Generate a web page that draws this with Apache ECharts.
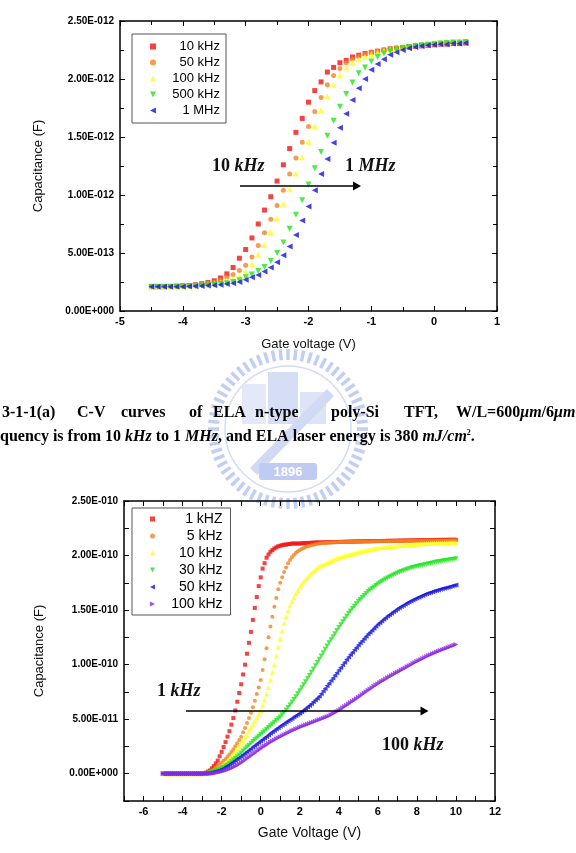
<!DOCTYPE html>
<html>
<head>
<meta charset="utf-8">
<script src="https://cdn.jsdelivr.net/npm/echarts@6/dist/echarts.min.js"></script>
<style>
html,body{margin:0;padding:0;background:#fff;}
#main{width:576px;height:853px;}
</style>
</head>
<body>
<div id="main"></div>
<script>
// upper plot: gate voltage (V) against capacitance in pF
var voltA = [
  -4.5,-4.4,-4.3,-4.2,-4.1,-4.0,-3.9,-3.8,-3.7,-3.6,
  -3.5,-3.4,-3.3,-3.2,-3.1,-3.0,-2.9,-2.8,-2.7,-2.6,
  -2.5,-2.4,-2.3,-2.2,-2.1,-2.0,-1.9,-1.8,-1.7,-1.6,
  -1.5,-1.4,-1.3,-1.2,-1.1,-1.0,-0.9,-0.8,-0.7,-0.6,
  -0.5,-0.4,-0.3,-0.2,-0.1,0,0.1,0.2,0.3,0.4,
  0.5];
var c10k = [
  0.21,0.21,0.21,0.212,0.214,0.216,0.22,0.226,0.235,0.245,
  0.26,0.285,0.32,0.375,0.455,0.53,0.63,0.75,0.87,0.985,
  1.12,1.26,1.40,1.54,1.66,1.80,1.90,1.975,2.06,2.10,
  2.14,2.16,2.19,2.205,2.22,2.23,2.24,2.25,2.26,2.265,
  2.27,2.275,2.28,2.285,2.29,2.295,2.30,2.30,2.305,2.305,
  2.31];
var c50k = [
  0.21,0.21,0.21,0.212,0.214,0.216,0.218,0.222,0.228,0.235,
  0.245,0.265,0.29,0.315,0.35,0.395,0.465,0.565,0.675,0.79,
  0.91,1.04,1.18,1.32,1.455,1.59,1.72,1.84,1.95,2.03,
  2.09,2.14,2.17,2.195,2.215,2.23,2.24,2.25,2.26,2.27,
  2.275,2.28,2.29,2.295,2.30,2.305,2.31,2.31,2.315,2.315,
  2.32];
var c100k = [
  0.21,0.21,0.21,0.212,0.214,0.216,0.218,0.22,0.224,0.23,
  0.238,0.248,0.26,0.275,0.30,0.34,0.405,0.485,0.57,0.68,
  0.80,0.925,1.05,1.185,1.325,1.46,1.595,1.73,1.85,1.95,
  2.03,2.10,2.14,2.17,2.195,2.215,2.23,2.245,2.255,2.265,
  2.275,2.285,2.29,2.30,2.305,2.31,2.315,2.32,2.32,2.325,
  2.33];
var c500k = [
  0.21,0.21,0.21,0.21,0.21,0.212,0.214,0.216,0.219,0.222,
  0.226,0.232,0.24,0.25,0.265,0.29,0.315,0.345,0.38,0.43,
  0.50,0.59,0.71,0.83,0.955,1.09,1.23,1.37,1.51,1.64,
  1.76,1.87,1.97,2.05,2.10,2.15,2.19,2.22,2.24,2.255,
  2.265,2.275,2.285,2.29,2.295,2.30,2.305,2.31,2.315,2.315,
  2.32];
var c1M = [
  0.21,0.21,0.21,0.21,0.21,0.21,0.212,0.214,0.216,0.219,
  0.222,0.226,0.232,0.24,0.25,0.27,0.29,0.31,0.34,0.375,
  0.42,0.48,0.555,0.655,0.78,0.90,1.04,1.18,1.31,1.45,
  1.58,1.70,1.82,1.92,2.00,2.08,2.13,2.17,2.21,2.23,
  2.25,2.265,2.275,2.285,2.29,2.295,2.30,2.30,2.305,2.305,
  2.31];
var namesA = ['10 kHz', '50 kHz', '100 kHz', '500 kHz', '1 MHz'];

// lower plot: gate voltage (V) against capacitance in units of 1e-11 F
var voltB = [
  -5.0,-4.9,-4.8,-4.7,-4.6,-4.5,-4.4,-4.3,-4.2,-4.1,
  -4.0,-3.9,-3.8,-3.7,-3.6,-3.5,-3.4,-3.3,-3.2,-3.1,
  -3.0,-2.9,-2.8,-2.7,-2.6,-2.5,-2.4,-2.3,-2.2,-2.1,
  -2.0,-1.9,-1.8,-1.7,-1.6,-1.5,-1.4,-1.3,-1.2,-1.1,
  -1.0,-0.9,-0.8,-0.7,-0.6,-0.5,-0.4,-0.3,-0.2,-0.1,
  0,0.1,0.2,0.3,0.4,0.5,0.6,0.7,0.8,0.9,
  1.0,1.1,1.2,1.3,1.4,1.5,1.6,1.7,1.8,1.9,
  2.0,2.1,2.2,2.3,2.4,2.5,2.6,2.7,2.8,2.9,
  3.0,3.1,3.2,3.3,3.4,3.5,3.6,3.7,3.8,3.9,
  4.0,4.1,4.2,4.3,4.4,4.5,4.6,4.7,4.8,4.9,
  5.0,5.1,5.2,5.3,5.4,5.5,5.6,5.7,5.8,5.9,
  6.0,6.1,6.2,6.3,6.4,6.5,6.6,6.7,6.8,6.9,
  7.0,7.1,7.2,7.3,7.4,7.5,7.6,7.7,7.8,7.9,
  8.0,8.1,8.2,8.3,8.4,8.5,8.6,8.7,8.8,8.9,
  9.0,9.1,9.2,9.3,9.4,9.5,9.6,9.7,9.8,9.9,
  10.0];
var b1k = [
  0,0,0,0,0,0,0,0,0,0,
  0,0,0,0,0,0,0,0,0,0,
  0,0.05,0.1,0.2,0.3,0.5,0.7,0.95,1.2,1.6,
  2.0,2.45,2.9,3.4,3.9,4.5,5.1,5.8,6.6,7.4,
  8.2,9.1,10.0,11.0,12.0,13.0,14.1,15.2,16.2,17.2,
  18.0,18.8,19.3,19.8,20.1,20.35,20.5,20.65,20.75,20.85,
  20.9,20.95,21.0,21.0,21.05,21.05,21.1,21.1,21.1,21.1,
  21.1,21.12,21.13,21.14,21.15,21.16,21.17,21.18,21.19,21.2,
  21.2,21.2,21.21,21.21,21.22,21.22,21.23,21.23,21.24,21.24,
  21.25,21.25,21.26,21.26,21.27,21.27,21.28,21.28,21.29,21.29,
  21.3,21.3,21.3,21.31,21.31,21.31,21.32,21.32,21.32,21.33,
  21.33,21.33,21.34,21.34,21.34,21.35,21.35,21.35,21.36,21.36,
  21.36,21.37,21.37,21.37,21.38,21.38,21.38,21.39,21.39,21.39,
  21.4,21.4,21.4,21.41,21.41,21.41,21.42,21.42,21.42,21.43,
  21.43,21.43,21.44,21.44,21.44,21.44,21.45,21.45,21.45,21.45,
  21.45];
var b5k = [
  0,0,0,0,0,0,0,0,0,0,
  0,0,0,0,0,0,0,0,0,0,
  0,0.03,0.07,0.12,0.2,0.3,0.42,0.55,0.7,0.85,
  1.0,1.18,1.36,1.55,1.77,2.0,2.25,2.52,2.8,3.1,
  3.4,3.8,4.2,4.65,5.1,5.6,6.1,6.7,7.3,7.9,
  8.6,9.5,10.5,11.5,12.5,13.5,14.4,15.3,16.1,16.9,
  17.5,18.0,18.5,18.9,19.3,19.6,19.85,20.05,20.25,20.4,
  20.5,20.6,20.7,20.78,20.85,20.9,20.95,21.0,21.03,21.06,
  21.1,21.12,21.14,21.16,21.18,21.19,21.2,21.21,21.22,21.23,
  21.24,21.24,21.25,21.25,21.25,21.26,21.26,21.26,21.27,21.27,
  21.27,21.28,21.28,21.28,21.29,21.29,21.29,21.3,21.3,21.3,
  21.3,21.31,21.31,21.31,21.32,21.32,21.32,21.32,21.33,21.33,
  21.33,21.33,21.34,21.34,21.34,21.34,21.35,21.35,21.35,21.35,
  21.36,21.36,21.36,21.36,21.37,21.37,21.37,21.37,21.38,21.38,
  21.38,21.38,21.38,21.39,21.39,21.39,21.39,21.4,21.4,21.4,
  21.4];
var b10k = [
  0,0,0,0,0,0,0,0,0,0,
  0,0,0,0,0,0,0,0,0,0,
  0,0.02,0.05,0.08,0.13,0.2,0.28,0.37,0.47,0.58,
  0.7,0.85,1.0,1.17,1.38,1.6,1.83,2.06,2.3,2.55,
  2.8,3.05,3.3,3.6,3.9,4.2,4.5,4.8,5.1,5.45,
  5.8,6.25,6.75,7.3,7.9,8.6,9.3,10.0,10.8,11.6,
  12.4,13.1,13.8,14.4,14.95,15.4,15.8,16.15,16.5,16.8,
  17.1,17.35,17.6,17.8,18.0,18.2,18.38,18.55,18.7,18.85,
  19.0,19.08,19.16,19.24,19.32,19.4,19.48,19.56,19.64,19.72,
  19.8,19.85,19.9,19.95,20.0,20.05,20.1,20.15,20.2,20.25,
  20.3,20.34,20.38,20.42,20.46,20.5,20.54,20.58,20.62,20.66,
  20.7,20.72,20.74,20.76,20.78,20.8,20.82,20.84,20.86,20.88,
  20.9,20.92,20.93,20.95,20.96,20.98,20.99,21.0,21.02,21.03,
  21.05,21.06,21.07,21.08,21.09,21.1,21.11,21.12,21.13,21.14,
  21.15,21.15,21.16,21.16,21.17,21.17,21.18,21.18,21.19,21.19,
  21.2];
var b30k = [
  0,0,0,0,0,0,0,0,0,0,
  0,0,0,0,0,0,0,0,0,0,
  0,0.01,0.03,0.05,0.1,0.15,0.21,0.28,0.35,0.42,
  0.5,0.6,0.7,0.8,0.95,1.1,1.25,1.4,1.55,1.72,
  1.9,2.08,2.26,2.44,2.62,2.8,2.96,3.12,3.28,3.44,
  3.6,3.76,3.92,4.08,4.24,4.4,4.56,4.72,4.88,5.04,
  5.2,5.4,5.62,5.84,6.06,6.3,6.55,6.8,7.05,7.32,
  7.6,7.88,8.16,8.44,8.72,9.0,9.3,9.6,9.9,10.2,
  10.5,10.8,11.1,11.4,11.7,12.0,12.28,12.56,12.84,13.12,
  13.4,13.66,13.92,14.18,14.44,14.7,14.92,15.14,15.36,15.58,
  15.8,15.98,16.16,16.34,16.52,16.7,16.84,16.98,17.12,17.26,
  17.4,17.51,17.62,17.73,17.84,17.95,18.04,18.13,18.22,18.31,
  18.4,18.47,18.54,18.61,18.68,18.75,18.8,18.85,18.9,18.95,
  19.0,19.04,19.08,19.12,19.16,19.2,19.24,19.28,19.32,19.36,
  19.4,19.43,19.46,19.49,19.52,19.55,19.58,19.61,19.64,19.67,
  19.7];
var b50k = [
  0,0,0,0,0,0,0,0,0,0,
  0,0,0,0,0,0,0,0,0,0,
  0,0.01,0.02,0.04,0.07,0.1,0.15,0.2,0.26,0.33,
  0.4,0.5,0.6,0.71,0.83,0.95,1.08,1.21,1.34,1.47,
  1.6,1.74,1.88,2.02,2.16,2.3,2.44,2.58,2.72,2.86,
  3.0,3.14,3.28,3.42,3.56,3.7,3.83,3.96,4.09,4.22,
  4.35,4.47,4.59,4.71,4.83,4.95,5.07,5.19,5.31,5.43,
  5.55,5.69,5.83,5.97,6.11,6.25,6.42,6.59,6.76,6.93,
  7.1,7.34,7.58,7.82,8.06,8.3,8.54,8.78,9.02,9.26,
  9.5,9.74,9.98,10.22,10.46,10.7,10.92,11.14,11.36,11.58,
  11.8,12.0,12.2,12.4,12.6,12.8,12.98,13.16,13.34,13.52,
  13.7,13.85,14.0,14.15,14.3,14.45,14.58,14.71,14.84,14.97,
  15.1,15.21,15.32,15.43,15.54,15.65,15.74,15.83,15.92,16.01,
  16.1,16.18,16.26,16.34,16.42,16.5,16.56,16.62,16.68,16.74,
  16.8,16.85,16.9,16.95,17.0,17.05,17.1,17.15,17.2,17.25,
  17.3];
var b100k = [
  0,0,0,0,0,0,0,0,0,0,
  0,0,0,0,0,0,0,0,0,0,
  0,0.005,0.01,0.02,0.03,0.05,0.07,0.1,0.13,0.16,
  0.2,0.25,0.3,0.36,0.43,0.5,0.59,0.68,0.78,0.89,
  1.0,1.13,1.26,1.39,1.52,1.65,1.78,1.91,2.04,2.17,
  2.3,2.42,2.54,2.66,2.78,2.9,3.0,3.1,3.2,3.3,
  3.4,3.49,3.58,3.67,3.76,3.85,3.93,4.01,4.09,4.17,
  4.25,4.32,4.39,4.46,4.53,4.6,4.67,4.74,4.81,4.88,
  4.95,5.02,5.09,5.16,5.23,5.3,5.4,5.5,5.6,5.7,
  5.8,5.92,6.04,6.16,6.28,6.4,6.52,6.64,6.76,6.88,
  7.0,7.13,7.26,7.39,7.52,7.65,7.77,7.89,8.01,8.13,
  8.25,8.36,8.47,8.58,8.69,8.8,8.9,9.0,9.1,9.2,
  9.3,9.4,9.5,9.6,9.7,9.8,9.9,10.0,10.1,10.2,
  10.3,10.39,10.48,10.57,10.66,10.75,10.83,10.91,10.99,11.07,
  11.15,11.22,11.29,11.36,11.43,11.5,11.57,11.64,11.71,11.78,
  11.85];
var namesB = ['1 kHZ', '5 kHz', '10 kHz', '30 kHz', '50 kHz', '100 kHz'];

var seriesA = [c10k, c50k, c100k, c500k, c1M];
var seriesB = [b1k, b5k, b10k, b30k, b50k, b100k];
var colors = ['#f01414', '#f5821f', '#ffff1a', '#1ee61e', '#1414dc', '#8c28e6'];
var symbols = ['rect', 'circle', 'triangle', 'triangle', 'triangle', 'triangle'];
var rotates = [0, 0, 0, 180, 90, -90];
// legend icons drawn as paths so the triangle directions show
var legendIcons = [
  'path://M0,0H10V10H0Z', 'circle', 'path://M5,0L10,10L0,10Z',
  'path://M0,0L10,0L5,10Z', 'path://M10,0L10,10L0,5Z', 'path://M0,0L0,10L10,5Z'
];

function pairs(xs, ys) {
  return xs.map(function (x, i) { return [x, ys[i]]; });
}

// 2.5e-12 -> "2.50E-012"
function fmtE(v) {
  if (Math.abs(v) < 1e-30) return '0.00E+000';
  var parts = v.toExponential(2).split('e');
  var n = parseInt(parts[1], 10);
  return parts[0] + 'E' + (n < 0 ? '-' : '+') + String(Math.abs(n)).padStart(3, '0');
}

var chartDom = document.getElementById('main');
var myChart = echarts.init(chartDom, null, {renderer: 'canvas'});

var frame = {lineStyle: {color: '#000', width: 1.5}, onZero: false};
var tickIn = {inside: true, length: 5, lineStyle: {color: '#000', width: 1}};
var minorIn = {show: true, splitNumber: 2, length: 4, lineStyle: {color: '#000', width: 1}};
var lblX = {fontSize: 11, fontWeight: 'bold', color: '#000', fontFamily: 'Liberation Sans', margin: 5};
var lblY = {fontSize: 10, fontWeight: 'bold', color: '#000', fontFamily: 'Liberation Sans', margin: 6};
var nameStyle = {fontSize: 13, color: '#111', fontFamily: 'Liberation Sans'};

var series = [];
seriesA.forEach(function (ys, i) {
  series.push({
    type: 'scatter', name: namesA[i], xAxisIndex: 0, yAxisIndex: 0,
    data: pairs(voltA, ys), symbol: symbols[i], symbolRotate: rotates[i],
    symbolSize: i < 2 ? 5 : 6, itemStyle: {color: colors[i]}, z: 2 + i
  });
});
seriesB.forEach(function (ys, i) {
  series.push({
    type: 'scatter', name: 'B:' + namesB[i], xAxisIndex: 2, yAxisIndex: 2,
    data: pairs(voltB, ys), symbol: symbols[i], symbolRotate: rotates[i],
    symbolSize: i < 2 ? 4 : 5, itemStyle: {color: colors[i]}, z: 2 + i
  });
});

function legendFmt(name) {
  return '{a|' + name.replace(/^B:/, '') + '}';
}
function legendItems(names, prefix) {
  return names.map(function (n, i) { return {name: prefix + n, icon: legendIcons[i]}; });
}

// faint university seal behind the caption
var wmColor = '#c3cff2';
var cx = 288, cy = 429;
var graphics = [];
for (var k = 0; k < 64; k++) {
  var a = k * Math.PI * 2 / 64;
  graphics.push({
    type: 'line', z: -1, silent: true,
    shape: {x1: cx + 69 * Math.cos(a), y1: cy + 69 * Math.sin(a), x2: cx + 80 * Math.cos(a), y2: cy + 80 * Math.sin(a)},
    style: {stroke: wmColor, lineWidth: 3.5}
  });
}
graphics.push({type: 'circle', z: -1, silent: true, shape: {cx: cx, cy: cy, r: 63}, style: {fill: 'none', stroke: '#d3dcf5', lineWidth: 1.5}});
graphics.push({type: 'rect', z: -1, silent: true, shape: {x: 242, y: 384, width: 24, height: 40}, style: {fill: '#e3e9f9'}});
graphics.push({type: 'rect', z: -1, silent: true, shape: {x: 268, y: 372, width: 30, height: 52}, style: {fill: '#d6def6'}});
graphics.push({type: 'rect', z: -1, silent: true, shape: {x: 300, y: 392, width: 26, height: 32}, style: {fill: '#dde4f7'}});
graphics.push({type: 'polygon', z: -1, silent: true, shape: {points: [[250, 468], [257, 475], [334, 396], [327, 389]]}, style: {fill: '#d0daf4'}});
graphics.push({type: 'rect', z: -1, silent: true, shape: {x: 259, y: 463, width: 58, height: 17, r: 3}, style: {fill: '#bfcbf0'}});
graphics.push({type: 'text', z: -1, silent: true, style: {text: '1896', x: 288, y: 472, align: 'center', verticalAlign: 'middle', fill: '#fff', font: 'bold 13px Liberation Sans'}});

// annotation texts and arrows
var serifB = {fontFamily: 'Liberation Serif', fontWeight: 'bold', fontSize: 18, fill: '#111'};
var serifBI = {fontFamily: 'Liberation Serif', fontWeight: 'bold', fontStyle: 'italic', fontSize: 18, fill: '#111'};
function note(x, y, text) {
  return {type: 'text', z: 50, silent: true, style: {x: x, y: y, text: text, verticalAlign: 'middle', rich: {n: serifB, i: serifBI}}};
}
function arrow(x1, x2, y) {
  return [
    {type: 'line', z: 50, silent: true, shape: {x1: x1, y1: y, x2: x2 - 7, y2: y}, style: {stroke: '#000', lineWidth: 1.3}},
    {type: 'polygon', z: 50, silent: true, shape: {points: [[x2 - 8, y - 4.5], [x2, y], [x2 - 8, y + 4.5]]}, style: {fill: '#000'}}
  ];
}
graphics.push(note(212, 166, '{n|10 }{i|kHz}'));
graphics.push(note(345, 166, '{n|1 }{i|MHz}'));
graphics = graphics.concat(arrow(240, 361, 186));
graphics.push(note(157, 691, '{n|1 }{i|kHz}'));
graphics.push(note(382, 745, '{n|100 }{i|kHz}'));
graphics = graphics.concat(arrow(186, 428.5, 711));

// figure caption (left edge of the page is cut)
var capB = {fontFamily: 'Liberation Serif', fontWeight: 'bold', fontSize: 16, fill: '#000'};
var capI = {fontFamily: 'Liberation Serif', fontWeight: 'bold', fontStyle: 'italic', fontSize: 16, fill: '#000'};
var capSup = {fontFamily: 'Liberation Serif', fontWeight: 'bold', fontSize: 8, fill: '#000', verticalAlign: 'top'};
var capWords = ['3-1-1(a)', 'C-V', 'curves', 'of', 'ELA', 'n-type', 'poly-Si', 'TFT,', '{b|W/L=600}{i|\u03bcm}{b|/6}{i|\u03bcm}'];
var capX = [2, 77, 121, 189, 213, 255, 331, 404, 456];
capWords.forEach(function (w, i) {
  graphics.push({type: 'text', z: 50, silent: true,
    style: {x: capX[i], y: 413, text: w.charAt(0) === '{' ? w : '{b|' + w + '}', verticalAlign: 'middle', rich: {b: capB, i: capI}}});
});
graphics.push({type: 'text', z: 50, silent: true,
  style: {x: 0, y: 437, verticalAlign: 'middle', rich: {b: capB, i: capI, s: capSup},
    text: '{b|quency is from 10 }{i|kHz}{b| to 1 }{i|MHz}{b|, and ELA laser energy is 380 }{i|mJ/cm}{s|2}{b|.}'}});

var legendBase = {
  orient: 'vertical', itemGap: 3, itemWidth: 10, borderColor: '#555', borderWidth: 1,
  backgroundColor: '#fff', formatter: legendFmt, selectedMode: false
};

var option = {
  backgroundColor: '#fff',
  animation: false,
  grid: [
    {left: 120, top: 21, width: 377, height: 290},
    {left: 124, top: 501, width: 371, height: 300}
  ],
  xAxis: [
    {gridIndex: 0, type: 'value', min: -5, max: 1, interval: 1, axisLine: frame, axisTick: tickIn, minorTick: minorIn,
      axisLabel: lblX, splitLine: {show: false},
      name: 'Gate voltage (V)', nameLocation: 'middle', nameGap: 27, nameTextStyle: nameStyle},
    {gridIndex: 0, type: 'value', position: 'top', min: -5, max: 1, interval: 1, axisLine: frame, axisTick: tickIn,
      minorTick: minorIn, axisLabel: {show: false}, splitLine: {show: false}},
    {gridIndex: 1, type: 'value', min: -7, max: 12, interval: 1, axisLine: frame, axisTick: tickIn,
      axisLabel: Object.assign({}, lblX, {formatter: function (v) {
        var n = Math.round(v); return n % 2 === 0 ? String(n) : '';
      }}), splitLine: {show: false},
      name: 'Gate Voltage (V)', nameLocation: 'middle', nameGap: 25, nameTextStyle: Object.assign({}, nameStyle, {fontSize: 14})},
    {gridIndex: 1, type: 'value', position: 'top', min: -7, max: 12, interval: 1, axisLine: frame, axisTick: tickIn,
      axisLabel: {show: false}, splitLine: {show: false}}
  ],
  yAxis: [
    {gridIndex: 0, type: 'value', min: 0, max: 2.5, interval: 0.5, axisLine: frame, axisTick: tickIn, minorTick: minorIn,
      axisLabel: Object.assign({}, lblY, {formatter: function (v) { return fmtE(v * 1e-12); }}), splitLine: {show: false},
      name: 'Capacitance (F)', nameLocation: 'middle', nameGap: 75, nameTextStyle: nameStyle},
    {gridIndex: 0, type: 'value', position: 'right', min: 0, max: 2.5, interval: 0.5, axisLine: frame, axisTick: tickIn,
      minorTick: minorIn, axisLabel: {show: false}, splitLine: {show: false}},
    {gridIndex: 1, type: 'value', min: -2.5, max: 25, interval: 2.5, axisLine: frame, axisTick: tickIn,
      axisLabel: Object.assign({}, lblY, {formatter: function (v) {
        var k = Math.round(v / 2.5); return k % 2 === 0 ? fmtE(k * 2.5e-11) : '';
      }}), splitLine: {show: false},
      name: 'Capacitance (F)', nameLocation: 'middle', nameGap: 78, nameTextStyle: nameStyle},
    {gridIndex: 1, type: 'value', position: 'right', min: -2.5, max: 25, interval: 2.5, axisLine: frame, axisTick: tickIn,
      axisLabel: {show: false}, splitLine: {show: false}}
  ],
  legend: [
    Object.assign({}, legendBase, {
      data: legendItems(namesA, ''), left: 132, top: 34, itemHeight: 6, padding: [6, 6, 6, 18],
      textStyle: {rich: {a: {width: 57, align: 'right', fontSize: 13, color: '#000', fontFamily: 'Liberation Sans'}}}
    }),
    Object.assign({}, legendBase, {
      data: legendItems(namesB, 'B:'), left: 132, top: 508, itemHeight: 5, padding: [4, 8, 4, 18],
      textStyle: {rich: {a: {width: 60, align: 'right', fontSize: 14, color: '#000', fontFamily: 'Liberation Sans'}}}
    })
  ],
  graphic: {elements: graphics},
  series: series
};

option && myChart.setOption(option);
</script>
</body>
</html>
